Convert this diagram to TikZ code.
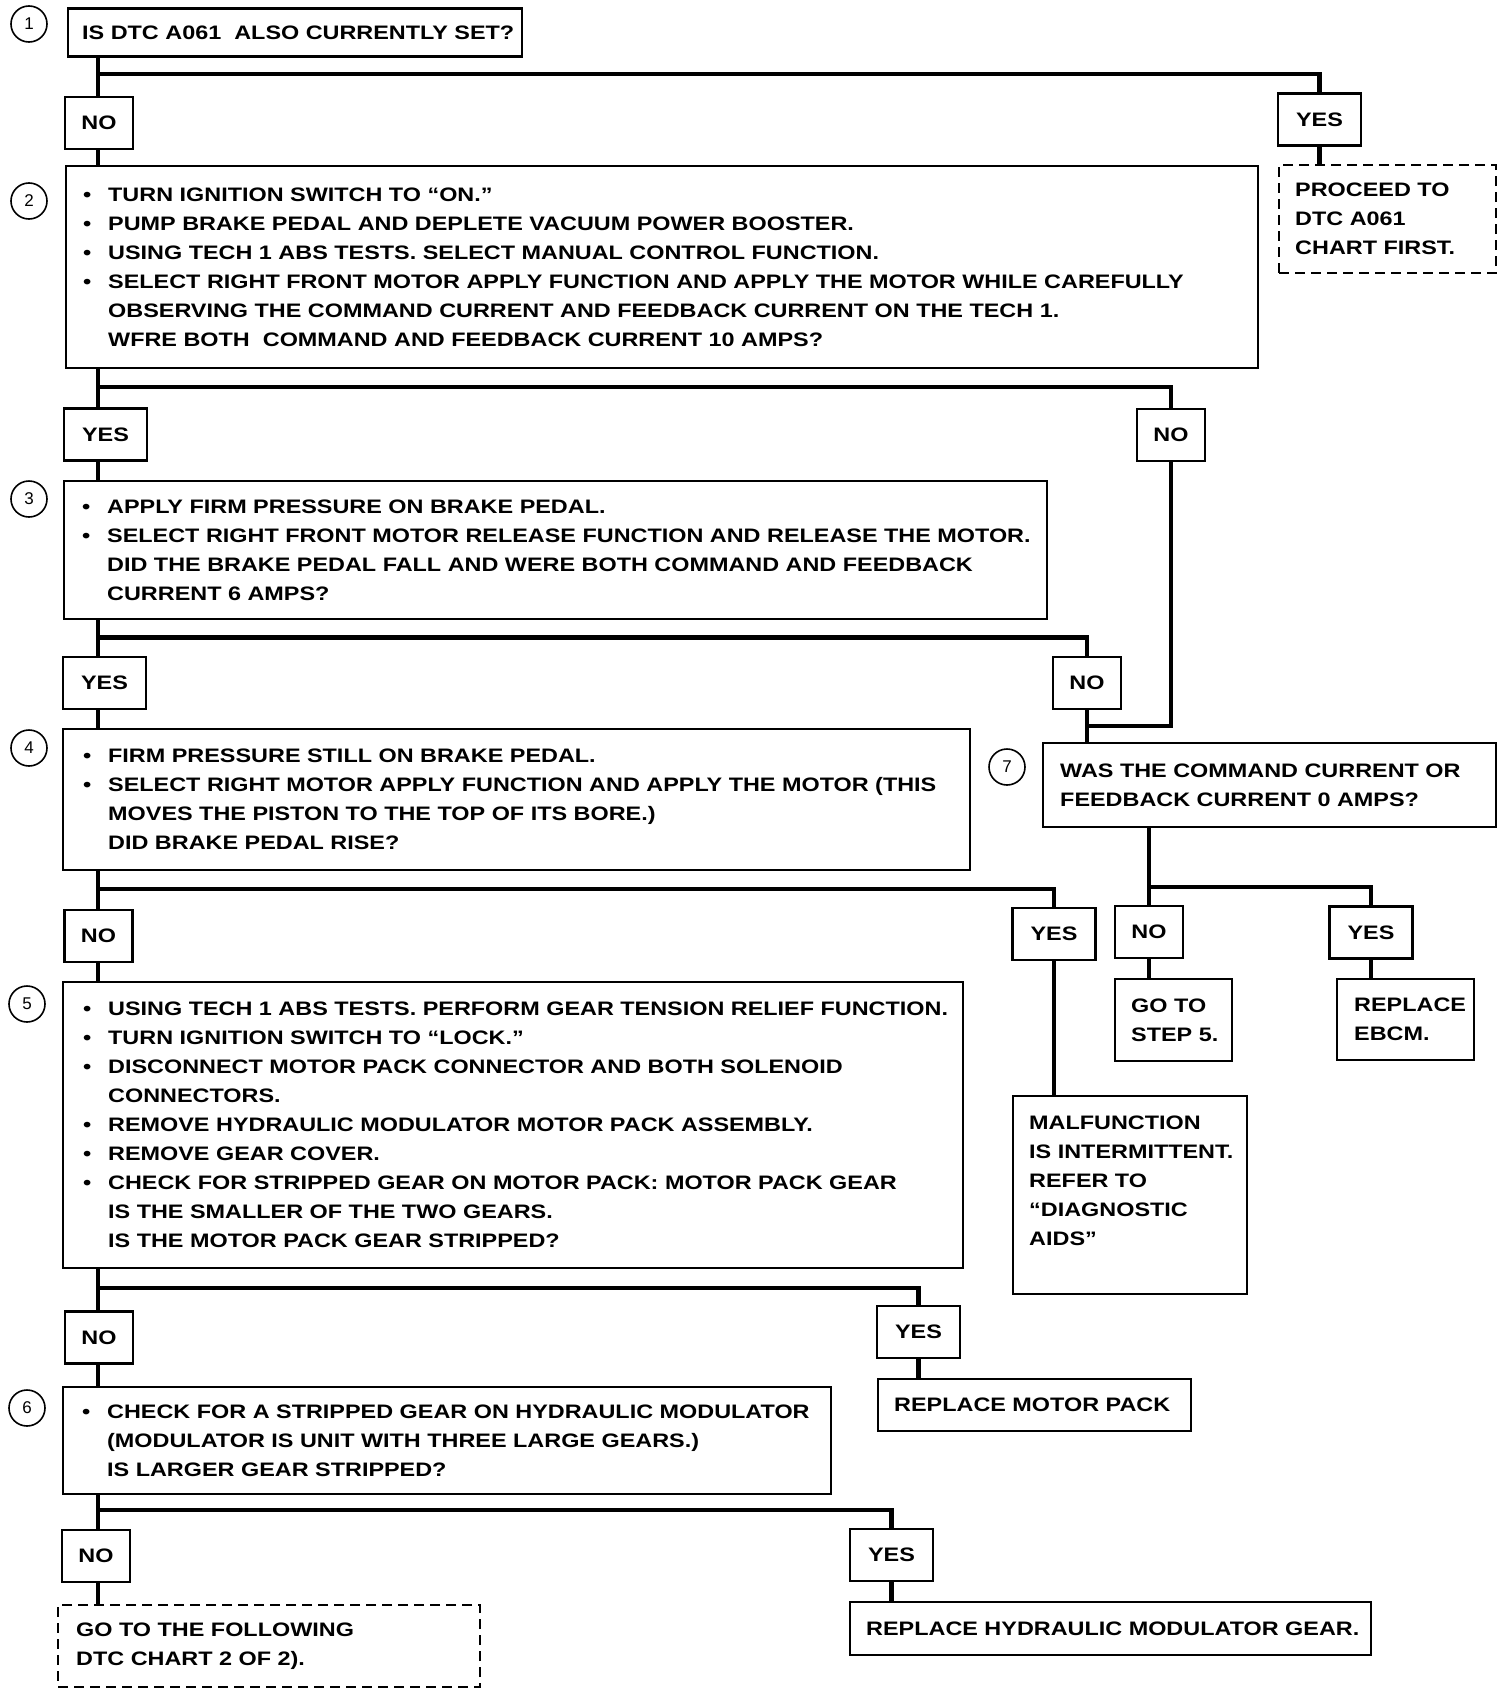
\documentclass[tikz,border=0pt]{standalone}
\usepackage{fontspec}
\newfontfamily\chartfont{Liberation Sans}[FakeStretch=1.2]
\newfontfamily\numfont{Liberation Sans}
\newcommand\bul[1]{\mbox{\makebox[25pt][l]{•}#1}}
\newcommand\cnt[1]{\mbox{\hspace*{25pt}#1}}
\newcommand\pln[1]{\mbox{#1}}
\newcommand\chartsize{\chartfont\bfseries\fontsize{19.5}{29}\selectfont}
\tikzset{
  conn/.style={line width=4.5pt},
  box/.style={draw, line width=2.4pt, anchor=north west, inner xsep=16pt, inner ysep=0pt, align=left, font=\chartsize},
  dbox/.style={box, dash pattern=on 10pt off 6pt},
  lab/.style={draw, line width=2.4pt, minimum height=52pt, inner sep=0pt, font=\chartsize},
  yeslab/.style={lab, minimum width=83pt},
  nolab/.style={lab, minimum width=68pt},
  num/.style={draw, circle, line width=1.6pt, minimum size=36pt, inner sep=0pt, font=\numfont\fontsize{17}{17}\selectfont}
}
\begin{document}
\begin{tikzpicture}[x=1pt,y=-1pt]
\fill[white] (0,0) rectangle (1504,1694);
\useasboundingbox (0,0) rectangle (1504,1694);

% step numbers
\node[num] (c1) at (29,24) {1};
\node[num] (c2) at (29,201) {2};
\node[num] (c3) at (29,499) {3};
\node[num] (c4) at (29,748) {4};
\node[num] (c5) at (27,1004) {5};
\node[num] (c6) at (27,1408) {6};
\node[num] (c7) at (1007,767) {7};

% boxes
\node[box, inner xsep=14pt, text width=426pt, minimum height=48pt] (s1) at (67,7.5)
  {\pln{IS DTC A061\ \ ALSO CURRENTLY SET?}};
\node[box, inner xsep=17pt, text width=1158pt, minimum height=202pt] (s2) at (65,165)
  {\bul{TURN IGNITION SWITCH TO “ON.”}\\
   \bul{PUMP BRAKE PEDAL AND DEPLETE VACUUM POWER BOOSTER.}\\
   \bul{USING TECH 1 ABS TESTS. SELECT MANUAL CONTROL FUNCTION.}\\
   \bul{SELECT RIGHT FRONT MOTOR APPLY FUNCTION AND APPLY THE MOTOR WHILE CAREFULLY}\\
   \cnt{OBSERVING THE COMMAND CURRENT AND FEEDBACK CURRENT ON THE TECH 1.}\\
   \cnt{WFRE BOTH\ \ COMMAND AND FEEDBACK CURRENT 10 AMPS?}};
\node[box, inner xsep=18pt, text width=947pt, minimum height=138pt] (s3) at (63,480)
  {\bul{APPLY FIRM PRESSURE ON BRAKE PEDAL.}\\
   \bul{SELECT RIGHT FRONT MOTOR RELEASE FUNCTION AND RELEASE THE MOTOR.}\\
   \cnt{DID THE BRAKE PEDAL FALL AND WERE BOTH COMMAND AND FEEDBACK}\\
   \cnt{CURRENT 6 AMPS?}};
\node[box, inner xsep=20pt, text width=867pt, minimum height=141pt] (s4) at (62,728)
  {\bul{FIRM PRESSURE STILL ON BRAKE PEDAL.}\\
   \bul{SELECT RIGHT MOTOR APPLY FUNCTION AND APPLY THE MOTOR (THIS}\\
   \cnt{MOVES THE PISTON TO THE TOP OF ITS BORE.)}\\
   \cnt{DID BRAKE PEDAL RISE?}};
\node[box, inner xsep=20pt, text width=860pt, minimum height=286pt] (s5) at (62,981)
  {\bul{USING TECH 1 ABS TESTS. PERFORM GEAR TENSION RELIEF FUNCTION.}\\
   \bul{TURN IGNITION SWITCH TO “LOCK.”}\\
   \bul{DISCONNECT MOTOR PACK CONNECTOR AND BOTH SOLENOID}\\
   \cnt{CONNECTORS.}\\
   \bul{REMOVE HYDRAULIC MODULATOR MOTOR PACK ASSEMBLY.}\\
   \bul{REMOVE GEAR COVER.}\\
   \bul{CHECK FOR STRIPPED GEAR ON MOTOR PACK: MOTOR PACK GEAR}\\
   \cnt{IS THE SMALLER OF THE TWO GEARS.}\\
   \cnt{IS THE MOTOR PACK GEAR STRIPPED?}};
\node[box, inner xsep=19pt, text width=730pt, minimum height=107pt] (s6) at (62,1386)
  {\bul{CHECK FOR A STRIPPED GEAR ON HYDRAULIC MODULATOR}\\
   \cnt{(MODULATOR IS UNIT WITH THREE LARGE GEARS.)}\\
   \cnt{IS LARGER GEAR STRIPPED?}};
\node[box, inner xsep=17pt, text width=419pt, minimum height=84pt] (s7) at (1042,742)
  {\pln{WAS THE COMMAND CURRENT OR}\\ \pln{FEEDBACK CURRENT 0 AMPS?}};
\node[dbox, text width=185pt, minimum height=108pt] (dtop) at (1278,164)
  {\pln{PROCEED TO}\\ \pln{DTC A061}\\ \pln{CHART FIRST.}};
\node[box, text width=85pt, minimum height=82pt] (goto) at (1114,978)
  {\pln{GO TO}\\ \pln{STEP 5.}};
\node[box, inner xsep=17pt, text width=103pt, minimum height=81pt] (ebcm) at (1336,978)
  {\pln{REPLACE}\\ \pln{EBCM.}};
\node[box, text width=202pt, minimum height=198pt] (malf) at (1012,1095)
  {\pln{MALFUNCTION}\\ \pln{IS INTERMITTENT.}\\ \pln{REFER TO}\\ \pln{“DIAGNOSTIC}\\ \pln{AIDS”}\\ \mbox{}};
\node[box, text width=281pt, minimum height=52pt] (motor) at (877,1378)
  {\pln{REPLACE MOTOR PACK}};
\node[box, text width=489pt, minimum height=53pt] (hyd) at (849,1601)
  {\pln{REPLACE HYDRAULIC MODULATOR GEAR.}};
\node[dbox, inner xsep=18pt, text width=386pt, minimum height=82pt] (dbot) at (57,1604)
  {\pln{GO TO THE FOLLOWING}\\ \pln{DTC CHART 2 OF 2).}};

% answer labels
\node[nolab]  (no1)  at (99,123) {NO};
\node[yeslab] (yes1) at (1319.5,119.5) {YES};
\node[yeslab] (yes2) at (105.5,434.5) {YES};
\node[nolab]  (no2)  at (1171,435) {NO};
\node[yeslab] (yes3) at (104.5,683) {YES};
\node[nolab]  (no3)  at (1087,683) {NO};
\node[nolab]  (no4)  at (98.5,936) {NO};
\node[yeslab] (yes4) at (1054,934) {YES};
\node[nolab]  (no7)  at (1149,932) {NO};
\node[yeslab] (yes7) at (1371,932.5) {YES};
\node[nolab]  (no5)  at (99,1337.5) {NO};
\node[yeslab] (yes5) at (918.5,1332) {YES};
\node[nolab]  (no6)  at (96,1556) {NO};
\node[yeslab] (yes6) at (891.5,1555) {YES};

% junctions
\coordinate (t) at (98,0);
\coordinate (j1) at (98,74);
\coordinate (j2) at (98,387);
\coordinate (j3) at (98,637.5);
\coordinate (j4) at (98,889);
\coordinate (j5) at (98,1288);
\coordinate (j6) at (98,1510);
\coordinate (j7) at (1087,726);
\coordinate (j8) at (1149,887);

% connectors
\draw[conn] (s1.south -| t) -- (no1.north -| t);
\draw[conn] (j1) -| (yes1.north);
\draw[conn] (yes1.south) -- (yes1.south |- dtop.north);
\draw[conn] (no1.south -| t) -- (s2.north -| t);
\draw[conn] (s2.south -| t) -- (yes2.north -| t);
\draw[conn] (j2) -| (no2.north);
\draw[conn] (yes2.south -| t) -- (s3.north -| t);
\draw[conn] (s3.south -| t) -- (yes3.north -| t);
\draw[conn] (j3) -| (no3.north);
\draw[conn] (no3.south) -- (no3.south |- s7.north);
\draw[conn] (no2.south) |- (j7);
\draw[conn] (yes3.south -| t) -- (s4.north -| t);
\draw[conn] (s4.south -| t) -- (no4.north -| t);
\draw[conn] (j4) -| (yes4.north);
\draw[conn] (yes4.south) -- (yes4.south |- malf.north);
\draw[conn] (no4.south -| t) -- (s5.north -| t);
\draw[conn] (s5.south -| t) -- (no5.north -| t);
\draw[conn] (j5) -| (yes5.north);
\draw[conn] (yes5.south) -- (yes5.south |- motor.north);
\draw[conn] (no5.south -| t) -- (s6.north -| t);
\draw[conn] (s6.south -| t) -- (no6.north -| t);
\draw[conn] (j6) -| (yes6.north);
\draw[conn] (yes6.south) -- (yes6.south |- hyd.north);
\draw[conn] (no6.south -| t) -- (dbot.north -| t);
\draw[conn] (s7.south -| no7) -- (no7.north);
\draw[conn] (j8) -| (yes7.north);
\draw[conn] (no7.south) -- (no7.south |- goto.north);
\draw[conn] (yes7.south) -- (yes7.south |- ebcm.north);
\end{tikzpicture}
\end{document}
